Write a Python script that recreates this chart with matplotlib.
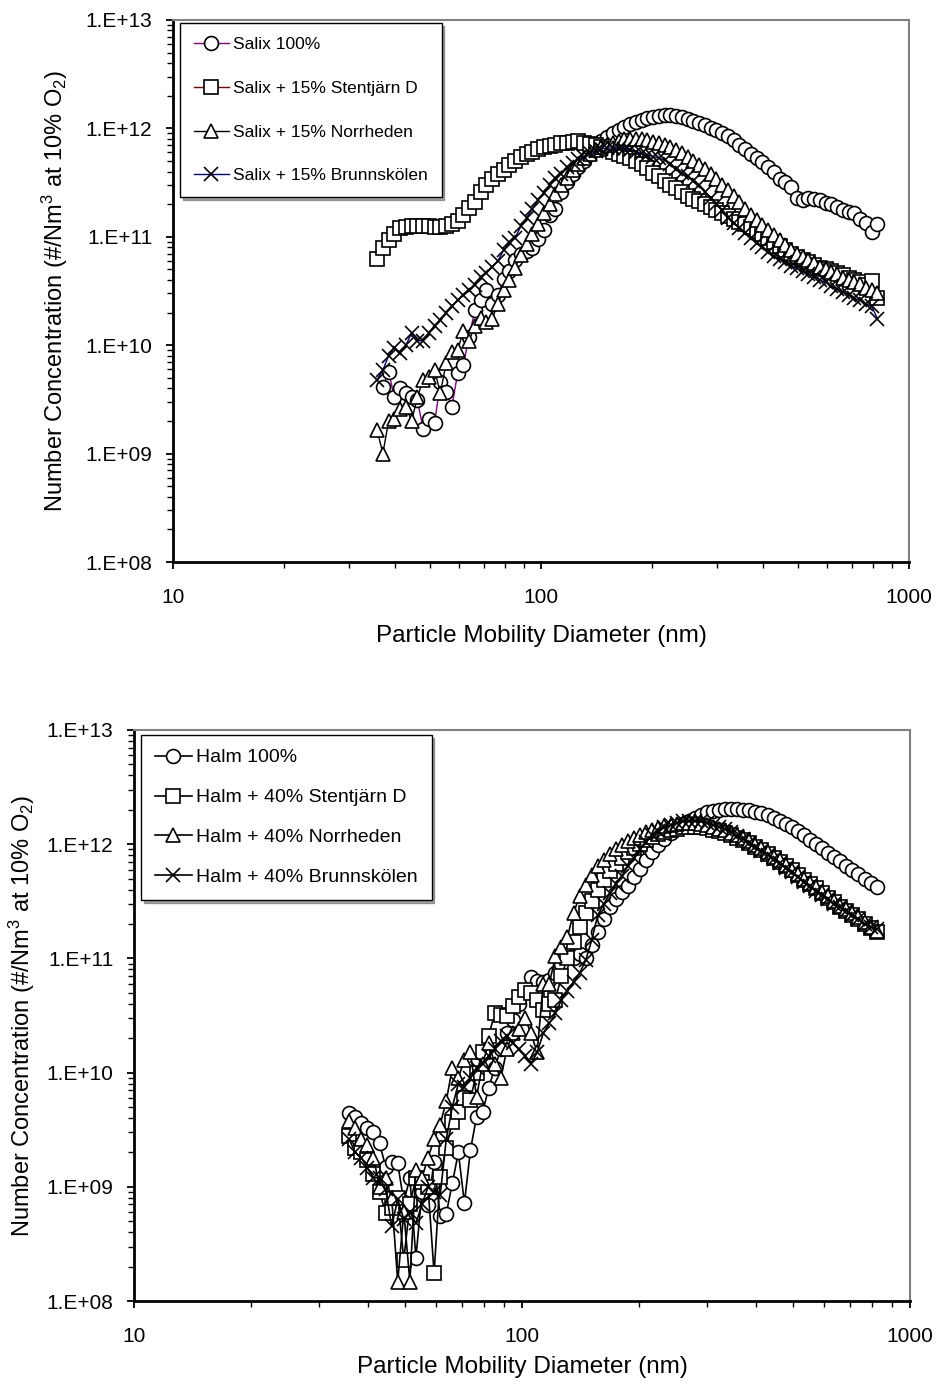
import matplotlib
matplotlib.use("Agg")
import matplotlib.pyplot as plt
from matplotlib.ticker import FuncFormatter, LogLocator, NullFormatter
import numpy as np

plt.rcParams['font.family'] = ['Liberation Sans', 'DejaVu Sans']
plt.rcParams['mathtext.fontset'] = 'custom'
plt.rcParams['mathtext.rm'] = 'Liberation Sans'
plt.rcParams['mathtext.it'] = 'Liberation Sans:italic'

# SMPS channel midpoints (nm)
diameters = [35.87, 37.18, 38.55, 39.96, 41.42, 42.94, 44.51, 46.14, 47.83, 49.58,
             51.40, 53.28, 55.23, 57.26, 59.35, 61.53, 63.78, 66.12, 68.54, 71.05,
             73.65, 76.35, 79.15, 82.05, 85.06, 88.17, 91.40, 94.75, 98.22, 101.8,
             105.5, 109.4, 113.4, 117.6, 121.9, 126.3, 131.0, 135.8, 140.7, 145.9,
             151.3, 156.8, 162.5, 168.5, 174.7, 181.1, 187.7, 194.6, 201.7, 209.1,
             216.8, 224.7, 232.9, 241.5, 250.3, 259.5, 269.0, 278.8, 289.1, 299.7,
             310.6, 322.0, 333.8, 346.0, 358.7, 371.9, 385.5, 399.6, 414.2, 429.4,
             445.1, 461.5, 478.4, 495.9, 514.1, 532.9, 552.4, 572.7, 593.6, 615.4,
             637.9, 661.3, 685.5, 710.6, 736.7, 763.7, 791.6, 820.7]

# ---- top panel: Salix ----
salix_100 = [4.1e9, 5.7e9, 3.3e9, 4.0e9, 3.6e9, 3.3e9, 3.1e9, 1.7e9, 2.1e9, 1.9e9,
             4.6e9, 3.7e9, 2.7e9, 5.5e9, 6.6e9, 1.2e10, 2.1e10, 2.6e10, 3.2e10, 2.4e10,
             2.9e10, 4.1e10, 4.8e10, 6.1e10, 7.0e10, 7.4e10, 7.8e10, 9.5e10, 1.16e11, 1.6e11,
             1.8e11, 2.6e11, 3.2e11, 3.8e11, 4.4e11, 5.0e11, 5.8e11, 6.6e11, 7.6e11, 8.4e11,
             9.0e11, 9.6e11, 1.02e12, 1.1e12, 1.15e12, 1.2e12, 1.25e12, 1.28e12, 1.31e12, 1.33e12,
             1.32e12, 1.3e12, 1.27e12, 1.22e12, 1.18e12, 1.13e12, 1.08e12, 1.01e12, 9.7e11, 9.1e11,
             8.5e11, 7.8e11, 7.0e11, 6.5e11, 5.8e11, 5.3e11, 4.9e11, 4.4e11, 4.0e11, 3.4e11,
             3.2e11, 2.9e11, 2.3e11, 2.2e11, 2.3e11, 2.25e11, 2.2e11, 2.05e11, 2.0e11, 1.9e11,
             1.75e11, 1.7e11, 1.65e11, 1.45e11, 1.33e11, 1.1e11, 1.3e11]
salix_sten = [6.3e10, 7.8e10, 9.3e10, 1.07e11, 1.2e11, 1.24e11, 1.25e11, 1.26e11, 1.25e11, 1.26e11,
              1.24e11, 1.22e11, 1.25e11, 1.3e11, 1.4e11, 1.6e11, 1.85e11, 2.1e11, 2.6e11, 3.0e11,
              3.4e11, 3.8e11, 4.1e11, 4.6e11, 5.0e11, 5.5e11, 5.8e11, 6.1e11, 6.5e11, 6.7e11,
              6.9e11, 7.1e11, 7.3e11, 7.4e11, 7.5e11, 7.6e11, 7.4e11, 7.2e11, 7.0e11, 6.7e11,
              6.4e11, 6.1e11, 5.8e11, 5.6e11, 5.3e11, 5.0e11, 4.7e11, 4.3e11, 3.9e11, 3.6e11,
              3.25e11, 3.0e11, 2.8e11, 2.6e11, 2.4e11, 2.25e11, 2.15e11, 2.0e11, 1.88e11, 1.76e11,
              1.65e11, 1.55e11, 1.45e11, 1.38e11, 1.3e11, 1.22e11, 1.13e11, 1.05e11, 9.7e10, 9.0e10,
              8.3e10, 7.6e10, 7.0e10, 6.5e10, 6.1e10, 5.8e10, 5.5e10, 5.2e10, 5.0e10, 4.8e10,
              4.6e10, 4.4e10, 4.2e10, 4.0e10, 3.8e10, 3.6e10, 3.9e10, 2.7e10]
salix_norr = [1.65e9, 1.0e9, 2.0e9, 2.1e9, 2.6e9, 2.7e9, 2.0e9, 3.3e9, 4.8e9, 5.1e9,
              5.9e9, 3.6e9, 6.8e9, 8.6e9, 9.0e9, 1.35e10, 1.1e10, 1.5e10, 1.8e10, 1.65e10,
              1.75e10, 2.4e10, 3.2e10, 4.0e10, 5.2e10, 6.8e10, 8.5e10, 1.05e11, 1.3e11, 1.65e11,
              2.0e11, 2.5e11, 3.0e11, 3.5e11, 4.1e11, 4.7e11, 5.3e11, 5.8e11, 6.3e11, 6.8e11,
              7.1e11, 7.4e11, 7.7e11, 7.9e11, 8.0e11, 8.0e11, 7.9e11, 7.8e11, 7.5e11, 7.3e11,
              7.0e11, 6.7e11, 6.3e11, 5.9e11, 5.5e11, 5.0e11, 4.6e11, 4.2e11, 3.8e11, 3.4e11,
              3.0e11, 2.7e11, 2.4e11, 2.1e11, 1.8e11, 1.6e11, 1.42e11, 1.28e11, 1.15e11, 1.03e11,
              9.3e10, 8.4e10, 7.6e10, 7.0e10, 6.5e10, 6.1e10, 5.7e10, 5.3e10, 5.0e10, 4.7e10,
              4.5e10, 4.2e10, 4.0e10, 3.8e10, 3.7e10, 3.4e10, 3.2e10, 3.0e10]
salix_brunn = [4.8e9, 5.9e9, 8.0e9, 9.5e9, 8.5e9, 1.0e10, 1.3e10, 1.1e10, 1.1e10, 1.3e10,
               1.5e10, 1.7e10, 2.0e10, 2.3e10, 2.6e10, 2.9e10, 3.2e10, 3.6e10, 4.3e10, 4.6e10,
               5.3e10, 6.0e10, 7.5e10, 9.0e10, 9.8e10, 1.25e11, 1.5e11, 1.8e11, 2.2e11, 2.55e11,
               3.0e11, 3.5e11, 3.8e11, 4.4e11, 4.8e11, 5.2e11, 5.5e11, 5.9e11, 6.2e11, 6.5e11,
               6.6e11, 6.6e11, 6.6e11, 6.5e11, 6.3e11, 6.1e11, 5.9e11, 5.7e11, 5.5e11, 5.3e11,
               5.1e11, 4.7e11, 4.2e11, 3.9e11, 3.6e11, 3.3e11, 3.0e11, 2.6e11, 2.3e11, 2.0e11,
               1.75e11, 1.5e11, 1.35e11, 1.2e11, 1.08e11, 9.7e10, 8.7e10, 8.0e10, 7.3e10, 6.6e10,
               6.2e10, 5.8e10, 5.4e10, 5.1e10, 4.8e10, 4.5e10, 4.3e10, 4.0e10, 3.8e10, 3.5e10,
               3.3e10, 3.1e10, 2.9e10, 2.7e10, 2.6e10, 2.4e10, 2.3e10, 1.75e10]

# ---- bottom panel: Halm ----
halm_100 = [4.4e9, 4.1e9, 3.6e9, 3.3e9, 3.0e9, 2.4e9, 1.5e9, 1.66e9, 1.6e9, 7.4e8,
            1.19e9, 2.4e8, 9.0e8, 6.9e8, 1.66e9, 5.5e8, 5.8e8, 1.07e9, 2.0e9, 7.2e8,
            2.1e9, 4.1e9, 4.5e9, 7.3e9, 1.1e10, 1.6e10, 2.2e10, 2.9e10, 4.0e10, 5.2e10,
            6.9e10, 6.3e10, 6.2e10, 6.5e10, 7.5e10, 9.0e10, 1.1e11, 1.0e11, 1.1e11, 1.0e11,
            1.3e11, 1.7e11, 2.2e11, 2.8e11, 3.3e11, 3.8e11, 4.3e11, 5.2e11, 6.1e11, 7.2e11,
            8.5e11, 9.8e11, 1.1e12, 1.25e12, 1.38e12, 1.5e12, 1.6e12, 1.7e12, 1.8e12, 1.9e12,
            1.95e12, 2.0e12, 2.02e12, 2.03e12, 2.02e12, 2.0e12, 1.98e12, 1.93e12, 1.86e12, 1.8e12,
            1.7e12, 1.6e12, 1.5e12, 1.4e12, 1.3e12, 1.2e12, 1.08e12, 1.0e12, 9.2e11, 8.4e11,
            7.7e11, 7.1e11, 6.5e11, 6.0e11, 5.5e11, 5.0e11, 4.6e11, 4.2e11]
halm_sten = [2.8e9, 2.2e9, 2.0e9, 1.7e9, 1.3e9, 9.0e8, 5.9e8, 6.5e8, 8.0e8, 2.3e8,
             7.0e8, 1.2e9, 1.1e9, 1.0e9, 1.75e8, 1.23e9, 2.2e9, 3.7e9, 4.5e9, 6.0e9,
             5.8e9, 1.0e10, 1.5e10, 2.1e10, 3.3e10, 3.2e10, 3.1e10, 3.8e10, 4.6e10, 5.3e10,
             5.0e10, 4.3e10, 3.5e10, 4.0e10, 4.3e10, 7.0e10, 1.0e11, 1.4e11, 1.9e11, 2.5e11,
             3.2e11, 4.0e11, 4.9e11, 5.8e11, 6.7e11, 7.6e11, 8.5e11, 9.3e11, 1.0e12, 1.08e12,
             1.15e12, 1.22e12, 1.28e12, 1.33e12, 1.37e12, 1.4e12, 1.42e12, 1.42e12, 1.4e12, 1.38e12,
             1.34e12, 1.3e12, 1.25e12, 1.2e12, 1.14e12, 1.08e12, 1.02e12, 9.5e11, 8.9e11, 8.2e11,
             7.6e11, 7.0e11, 6.4e11, 5.9e11, 5.4e11, 4.9e11, 4.5e11, 4.1e11, 3.7e11, 3.4e11,
             3.1e11, 2.8e11, 2.6e11, 2.4e11, 2.2e11, 2.0e11, 1.85e11, 1.7e11]
halm_norr = [3.8e9, 3.3e9, 2.6e9, 2.3e9, 1.8e9, 1.0e9, 1.2e9, 8.0e8, 1.48e8, 6.0e8,
             1.48e8, 1.4e9, 1.2e9, 1.8e9, 2.6e9, 3.5e9, 5.6e9, 1.1e10, 9.0e9, 1.3e10,
             1.5e10, 6.1e9, 1.2e10, 1.8e10, 1.2e10, 8.9e9, 1.6e10, 2.2e10, 2.4e10, 3.0e10,
             2.2e10, 1.5e10, 6.0e10, 6.0e10, 1.04e11, 1.25e11, 1.55e11, 2.5e11, 3.5e11, 4.4e11,
             5.4e11, 6.4e11, 7.3e11, 8.2e11, 9.0e11, 9.8e11, 1.06e12, 1.13e12, 1.2e12, 1.27e12,
             1.33e12, 1.38e12, 1.43e12, 1.47e12, 1.5e12, 1.52e12, 1.53e12, 1.52e12, 1.5e12, 1.46e12,
             1.42e12, 1.37e12, 1.32e12, 1.26e12, 1.2e12, 1.13e12, 1.06e12, 9.9e11, 9.2e11, 8.5e11,
             7.8e11, 7.2e11, 6.6e11, 6.0e11, 5.5e11, 5.0e11, 4.6e11, 4.2e11, 3.8e11, 3.5e11,
             3.2e11, 2.9e11, 2.7e11, 2.5e11, 2.3e11, 2.1e11, 1.9e11, 1.75e11]
halm_brunn = [2.6e9, 2.0e9, 1.8e9, 1.45e9, 1.2e9, 1.2e9, 9.6e8, 4.5e8, 7.8e8, 5.2e8,
              6.0e8, 4.8e8, 7.0e8, 1.0e9, 9.0e8, 8.4e8, 2.6e9, 5.0e9, 8.0e9, 7.5e9,
              9.0e9, 1.1e10, 1.2e10, 1.4e10, 1.6e10, 1.9e10, 2.1e10, 1.8e10, 1.6e10, 1.4e10,
              1.2e10, 1.5e10, 2.2e10, 2.7e10, 3.3e10, 4.3e10, 5.2e10, 6.2e10, 7.4e10, 9.6e10,
              1.45e11, 2.4e11, 3.0e11, 3.7e11, 4.5e11, 5.3e11, 6.5e11, 7.6e11, 9.0e11, 1.05e12,
              1.2e12, 1.3e12, 1.4e12, 1.48e12, 1.54e12, 1.58e12, 1.6e12, 1.6e12, 1.58e12, 1.54e12,
              1.48e12, 1.42e12, 1.35e12, 1.27e12, 1.19e12, 1.11e12, 1.03e12, 9.5e11, 8.8e11, 8.1e11,
              7.4e11, 6.8e11, 6.2e11, 5.7e11, 5.2e11, 4.7e11, 4.3e11, 3.9e11, 3.6e11, 3.3e11,
              3.0e11, 2.8e11, 2.6e11, 2.4e11, 2.2e11, 2.0e11, 1.9e11, 1.8e11]

top_labels = ['Salix 100%', 'Salix + 15% Stentjärn D',
              'Salix + 15% Norrheden', 'Salix + 15% Brunnskölen']
bottom_labels = ['Halm 100%', 'Halm + 40% Stentjärn D',
                 'Halm + 40% Norrheden', 'Halm + 40% Brunnskölen']
top_colors = ['#800080', '#800000', '#000000', '#000080']
markers = ['o', 's', '^', 'x']
marker_sizes = [10, 9.5, 10, 10]


def sci_fmt(v, pos):
    return f"1.E+{int(round(np.log10(v))):02d}"


def style_axes(ax, ylab_x, xlab_y):
    ax.set_xscale('log')
    ax.set_yscale('log')
    ax.set_xlim(10, 1000)
    ax.set_ylim(1e8, 1e13)
    ax.xaxis.set_major_locator(LogLocator(base=10, numticks=10))
    ax.xaxis.set_minor_locator(LogLocator(base=10, subs=np.arange(2, 10), numticks=20))
    ax.yaxis.set_major_locator(LogLocator(base=10, numticks=10))
    ax.yaxis.set_minor_locator(LogLocator(base=10, subs=np.arange(2, 10), numticks=20))
    ax.xaxis.set_major_formatter(FuncFormatter(lambda v, p: f"{v:g}"))
    ax.yaxis.set_major_formatter(FuncFormatter(sci_fmt))
    ax.xaxis.set_minor_formatter(NullFormatter())
    ax.yaxis.set_minor_formatter(NullFormatter())
    ax.tick_params(which='major', direction='out', length=5, width=1.3,
                   labelsize=15, top=False, right=False)
    ax.tick_params(which='minor', direction='out', length=4, width=1.0,
                   top=False, right=False)
    ax.tick_params(axis='x', which='major', pad=14)
    ax.tick_params(axis='y', which='major', pad=10)
    for side in ['left', 'bottom']:
        ax.spines[side].set_linewidth(2.0)
        ax.spines[side].set_color('black')
    for side in ['top', 'right']:
        ax.spines[side].set_linewidth(1.5)
        ax.spines[side].set_color('#808080')
    ax.set_xlabel('Particle Mobility Diameter (nm)', fontsize=17.5)
    ax.set_ylabel('Number Concentration (#/Nm$^3$ at 10% O$_2$)', fontsize=17)
    ax.xaxis.set_label_coords(0.5, xlab_y)
    ax.yaxis.set_label_coords(ylab_x, 0.5)


fig = plt.figure(figsize=(9.38, 13.87), dpi=100)
ax1 = fig.add_axes([0.1844, 0.5948, 0.7847, 0.3908])
ax2 = fig.add_axes([0.1429, 0.0620, 0.8272, 0.4117])

top_series = [(diameters[1:], salix_100), (diameters, salix_sten),
              (diameters, salix_norr), (diameters, salix_brunn)]
for (xs, ys), lab, col, mk, ms in zip(top_series, top_labels, top_colors, markers, marker_sizes):
    ax1.plot(xs, ys, color=col, lw=1.0, marker=mk, ms=ms, mfc='white',
             mec='black', mew=1.2, label=lab)

bottom_series = [halm_100, halm_sten, halm_norr, halm_brunn]
for ys, lab, mk, ms in zip(bottom_series, bottom_labels, markers, marker_sizes):
    ax2.plot(diameters, ys, color='black', lw=1.2, marker=mk, ms=ms, mfc='white',
             mec='black', mew=1.2, label=lab)

style_axes(ax1, -0.140, -0.117)
style_axes(ax2, -0.125, -0.096)

leg1 = ax1.legend(loc='upper left', bbox_to_anchor=(0.0095, 0.9945), borderaxespad=0,
                  fontsize=12.5, labelspacing=1.65, handlelength=2.0, handletextpad=0.25,
                  borderpad=0.8, numpoints=1, fancybox=False, shadow=True, framealpha=1)
leg1.get_frame().set_edgecolor('black')
leg1.get_frame().set_linewidth(1.0)

leg2 = ax2.legend(loc='upper left', bbox_to_anchor=(0.009, 0.991), borderaxespad=0,
                  fontsize=14, labelspacing=1.15, handlelength=1.9, handletextpad=0.25,
                  borderpad=0.7, numpoints=1, fancybox=False, shadow=True, framealpha=1)
leg2.get_frame().set_edgecolor('black')
leg2.get_frame().set_linewidth(1.0)

fig.savefig('out.png', dpi=100)
